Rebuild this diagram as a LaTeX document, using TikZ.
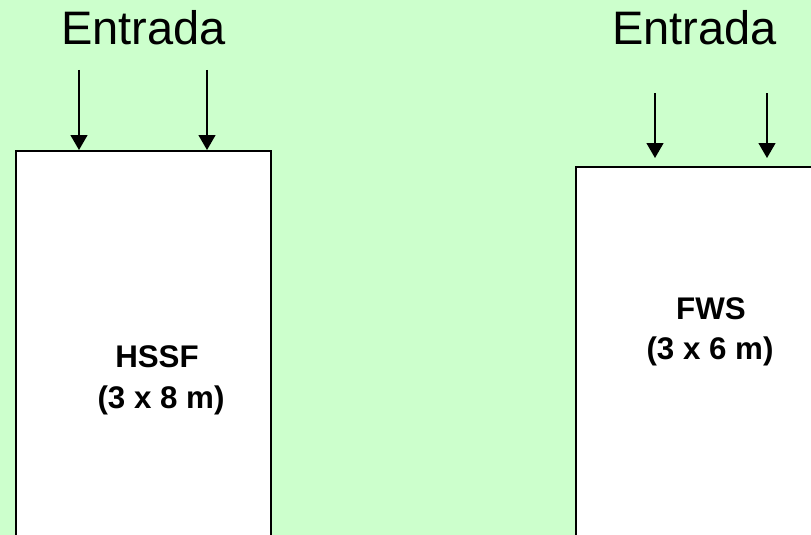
\documentclass[tikz,border=0pt]{standalone}
\usepackage{fontspec}
\setmainfont{Liberation Sans}
\usetikzlibrary{arrows.meta}
\definecolor{bgreen}{RGB}{204,255,204}
\tikzset{
  tank/.style={draw=black, fill=white, line width=1.7pt, minimum width=255pt, anchor=north west, inner sep=0pt},
  intitle/.style={anchor=base, inner sep=0pt, font=\fontsize{47}{56}\selectfont},
  tlabel/.style={anchor=base, inner sep=0pt, font=\fontsize{31.3}{41}\selectfont\bfseries},
  inflow/.style={line width=1.3pt, -{Triangle[width=17pt,length=15pt]}}
}
\begin{document}
\begin{tikzpicture}[x=1pt,y=-1pt]
\useasboundingbox (0,0) rectangle (811,535);
\fill[bgreen] (0,0) rectangle (811,535);
\clip (0,0) rectangle (811,535);
\node[tank, minimum height=400pt] (hssf) at (15,150) {};
\node[tank, minimum height=400pt] (fws) at (575,166) {};
\node[intitle] (ent1) at (143.5,45) {Entrada};
\node[intitle] (ent2) at (694.5,45) {Entrada};
\node[tlabel] (hssfname) at (157,367) {HSSF};
\node[tlabel] (hssfsize) at (161,408) {(3 x 8 m)};
\node[tlabel] (fwsname) at (711,319) {FWS};
\node[tlabel] (fwssize) at (710,359) {(3 x 6 m)};
\coordinate (a1s) at (79,70);
\coordinate (a1e) at (79,150);
\coordinate (a2s) at (207,70);
\coordinate (a2e) at (207,150);
\coordinate (b1s) at (655,93);
\coordinate (b1e) at (655,158);
\coordinate (b2s) at (767,93);
\coordinate (b2e) at (767,158);
\draw[inflow] (a1s) -- (a1e);
\draw[inflow] (a2s) -- (a2e);
\draw[inflow] (b1s) -- (b1e);
\draw[inflow] (b2s) -- (b2e);
\end{tikzpicture}
\end{document}
